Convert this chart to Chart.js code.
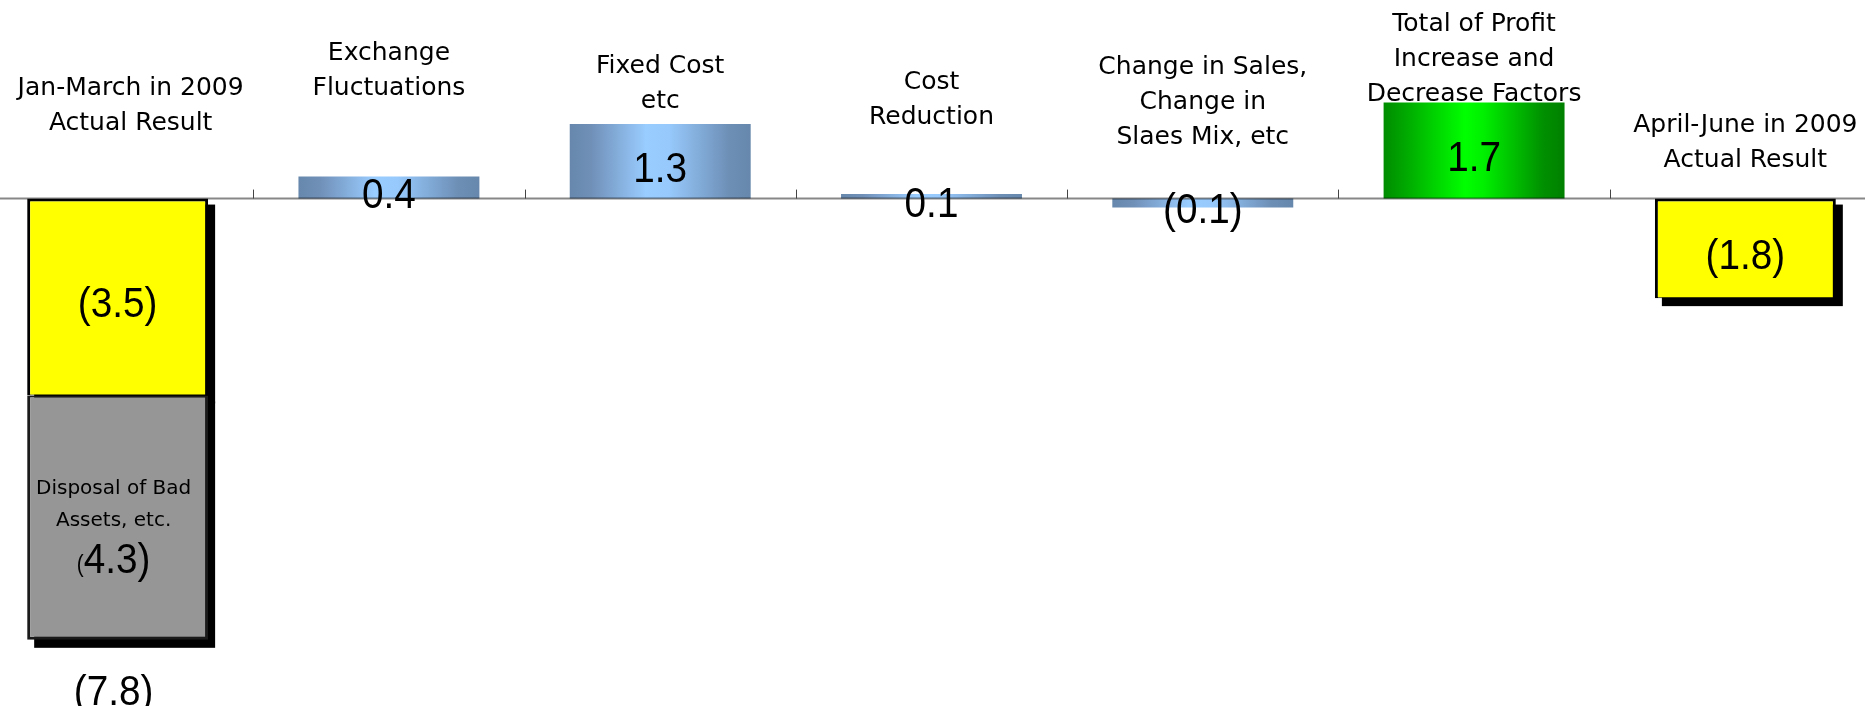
<!DOCTYPE html>
<html>
<head>
<meta charset="utf-8">
<script src="https://cdn.jsdelivr.net/npm/chart.js@4.4.1/dist/chart.umd.min.js"></script>
<style>
  html, body { margin: 0; padding: 0; background: #ffffff; overflow: hidden; width: 1865px; height: 706px; }
  #wrap { position: absolute; left: -18px; top: 0; width: 1899px; height: 706px; }
</style>
</head>
<body>
<div id="wrap"><canvas id="c" width="1899" height="706"></canvas></div>
<script>
// ---- data ----
const categories = [
  ["Jan-March in 2009", "Actual Result"],
  ["Exchange", "Fluctuations"],
  ["Fixed Cost", "etc"],
  ["Cost", "Reduction"],
  ["Change in Sales,", "Change in", "Slaes Mix, etc"],
  ["Total of Profit", "Increase and", "Decrease Factors"],
  ["April-June in 2009", "Actual Result"]
];
const actualValues   = [-3.48, null, null, null, null, null, -1.76];
const disposalValues = [-4.32, null, null, null, null, null, null];
const factorValues   = [null, 0.39, 1.32, 0.08, -0.16, null, null];
const totalValues    = [null, null, null, null, null, 1.7, null];
const valueLabels    = ["(3.5)", "0.4", "1.3", "0.1", "(0.1)", "1.7", "(1.8)"];
const disposalCaption = ["Disposal of Bad", "Assets, etc."];
const disposalLabel  = "4.3)";
const janTotalLabel  = "(7.8)";

// ---- style ----
const catLabelTop = [88, 53, 66, 82, 67, 24, 125];   // first-line centre (px)
const catLabelDx  = [13, 0, 0, 0, 0, 0, 0];
const catLineGap = 35;
const catFont = '25px "DejaVu Sans", sans-serif';
const BAR_PCT = 0.667;

function barGradient(ctx, stops) {
  const chart = ctx.chart;
  const xs = chart.scales && chart.scales.x;
  if (!xs || ctx.type !== 'data' || !xs.width) return stops[Math.floor(stops.length / 2)][1];
  const cx = xs.getPixelForValue(ctx.dataIndex);
  const w = xs.width / categories.length * BAR_PCT;
  const g = chart.ctx.createLinearGradient(cx - w / 2, 0, cx + w / 2, 0);
  stops.forEach(s => g.addColorStop(s[0], s[1]));
  return g;
}
const blueStops = [[0, '#6788ac'], [0.12, '#7090b8'], [0.42, '#99ccff'], [0.55, '#97c9fc'], [0.88, '#6d8fb6'], [1, '#6788ac']];
const greenStops = [[0, '#008c00'], [0.12, '#00a800'], [0.45, '#00ff00'], [0.55, '#00f000'], [0.88, '#009000'], [1, '#008000']];

const shadowPlugin = {
  id: 'shadow',
  beforeDatasetsDraw(chart) {
    const c = chart.ctx;
    c.save();
    c.fillStyle = '#000';
    [0, 1].forEach(di => {
      const meta = chart.getDatasetMeta(di);
      meta.data.forEach((el, i) => {
        const v = chart.data.datasets[di].data[i];
        if (v === null || v === undefined) return;
        const p = el.getProps(['x', 'y', 'base', 'width'], true);
        const top = Math.min(p.y, p.base), h = Math.abs(p.y - p.base);
        c.fillRect(p.x - p.width / 2 + 7, top + 6, p.width, h + 2);
      });
    });
    c.restore();
  }
};

const axisPlugin = {
  id: 'axisLine',
  afterDatasetsDraw(chart) {
    const c = chart.ctx, xs = chart.scales.x, ys = chart.scales.y;
    const y0 = ys.getPixelForValue(0);
    c.save();
    c.strokeStyle = 'rgba(0,0,0,0.47)';
    c.lineWidth = 2;
    c.beginPath();
    c.moveTo(0, y0); c.lineTo(chart.width, y0);
    c.stroke();
    c.strokeStyle = '#444';
    c.lineWidth = 1;
    for (let i = 1; i < categories.length; i++) {
      const xb = Math.round((xs.getPixelForValue(i - 1) + xs.getPixelForValue(i)) / 2) + 0.5;
      c.beginPath();
      c.moveTo(xb, y0); c.lineTo(xb, y0 - 9);
      c.stroke();
    }
    c.restore();
  }
};

function drawNarrow(c, text, x, yCenter, size) {
  c.save();
  c.font = size + 'px "Liberation Sans", Arial, sans-serif';
  c.textAlign = 'center';
  c.textBaseline = 'alphabetic';
  c.translate(x, yCenter + 0.358 * size);
  c.scale(0.9, 1);
  c.fillText(text, 0, 0);
  c.restore();
}

const labelPlugin = {
  id: 'labels',
  afterDraw(chart) {
    const c = chart.ctx, xs = chart.scales.x;
    c.save();
    c.fillStyle = '#000';
    // category labels
    c.font = catFont;
    c.textAlign = 'center';
    c.textBaseline = 'middle';
    categories.forEach((lines, i) => {
      const cx = xs.getPixelForValue(i) + catLabelDx[i];
      lines.forEach((t, k) => c.fillText(t, cx, catLabelTop[i] + k * catLineGap));
    });
    // value labels
    const srcSets = [0, 2, 3];
    valueLabels.forEach((t, i) => {
      for (const di of srcSets) {
        const v = chart.data.datasets[di].data[i];
        if (v === null || v === undefined) continue;
        const p = chart.getDatasetMeta(di).data[i].getProps(['x', 'y', 'base'], true);
        drawNarrow(c, t, p.x, (p.y + p.base) / 2 + 5, 43);
        break;
      }
    });
    // disposal segment labels
    const dm = chart.getDatasetMeta(1);
    disposalValues.forEach((v, i) => {
      if (v === null || v === undefined) return;
      const p = dm.data[i].getProps(['x', 'y', 'base'], true);
      const mid = (p.y + p.base) / 2;
      c.font = '20px "DejaVu Sans", sans-serif';
      c.textAlign = 'center';
      c.textBaseline = 'middle';
      c.fillText(disposalCaption[0], p.x - 4, mid - 29);
      c.fillText(disposalCaption[1], p.x - 4, mid + 3);
      // "(" small + "4.3)" large
      c.font = '43px "Liberation Sans", Arial, sans-serif';
      const wBig = c.measureText(disposalLabel).width * 0.9;
      c.font = '23px "Liberation Sans", Arial, sans-serif';
      const wSmall = c.measureText('(').width * 0.9;
      const left = p.x - 4 - (wBig + wSmall) / 2;
      const base = mid + 40 + 0.358 * 43;
      c.save();
      c.textAlign = 'left';
      c.textBaseline = 'alphabetic';
      c.translate(left, base); c.scale(0.9, 1);
      c.font = '23px "Liberation Sans", Arial, sans-serif';
      c.fillText('(', 0, -1);
      c.font = '43px "Liberation Sans", Arial, sans-serif';
      c.fillText(disposalLabel, wSmall / 0.9, 0);
      c.restore();
      // total below stacked bar
      const bottom = Math.max(p.y, p.base);
      drawNarrow(c, janTotalLabel, p.x - 4, bottom + 50, 43);
    });
    c.restore();
  }
};

new Chart(document.getElementById('c'), {
  type: 'bar',
  data: {
    labels: categories,
    datasets: [
      { label: 'Actual Result', data: actualValues, backgroundColor: '#ffff00',
        borderColor: '#000', borderWidth: { top: 3, left: 3, right: 3, bottom: 1 }, borderSkipped: false },
      { label: 'Disposal of Bad Assets', data: disposalValues, backgroundColor: '#969696',
        borderColor: '#1a1a1a', borderWidth: { top: 2, left: 3, right: 3, bottom: 3 }, borderSkipped: false },
      { label: 'Factors', data: factorValues, borderWidth: 0,
        backgroundColor: ctx => barGradient(ctx, blueStops) },
      { label: 'Total', data: totalValues, borderWidth: 0,
        backgroundColor: ctx => barGradient(ctx, greenStops) }
    ]
  },
  options: {
    responsive: false,
    animation: false,
    layout: { padding: 0 },
    categoryPercentage: 1,
    barPercentage: BAR_PCT,
    plugins: { legend: { display: false }, tooltip: { enabled: false } },
    scales: {
      x: { display: false, stacked: true, offset: true },
      y: { display: false, stacked: true, min: -8.97, max: 3.51 }
    }
  },
  plugins: [shadowPlugin, axisPlugin, labelPlugin]
});
</script>
</body>
</html>
